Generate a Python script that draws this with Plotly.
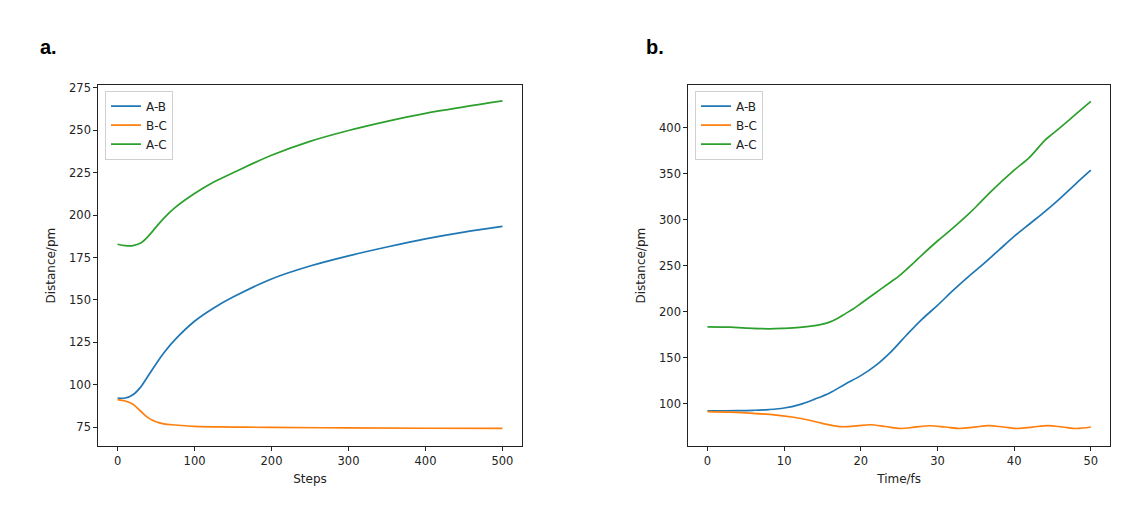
import plotly.graph_objects as go
from plotly.subplots import make_subplots

# panel a: distances vs optimisation steps
steps_ab = [0, 10, 20, 30, 40, 50, 60, 75, 100, 125, 150, 200, 250, 300, 350, 400, 450, 500]
dist_ab_a = [92.3, 92.3, 94.2, 98.7, 105.5, 112.3, 118.8, 126.8, 137.5, 145.3, 151.7, 162.4, 170, 176, 181.2, 186, 190, 193.3]

steps_bc = [0, 10, 20, 30, 40, 50, 60, 75, 100, 150, 200, 300, 400, 500]
dist_bc_a = [91.3, 90.5, 88.6, 84.5, 80.6, 78.3, 77.1, 76.4, 75.6, 75.2, 75.0, 74.7, 74.5, 74.4]

steps_ac = [0, 10, 20, 30, 40, 50, 60, 75, 100, 125, 150, 200, 250, 300, 350, 400, 450, 500]
dist_ac_a = [182.8, 182, 182, 183.5, 187.6, 192.9, 198.1, 204.5, 212.7, 219.5, 224.9, 235.2, 243.4, 249.8, 255.2, 259.9, 263.7, 267.2]

# panel b: distances vs time
time_ab = [0, 2, 4, 6, 8, 10, 12, 14, 16, 18, 20, 22, 24, 26, 28, 30, 32, 34, 36, 38, 40, 42, 44, 46, 48, 50]
dist_ab_b = [92.3, 92.3, 92.4, 92.8, 93.6, 95.3, 99, 105, 112, 121.5, 130.5, 142, 157, 175, 192, 207, 223, 238, 252, 267, 282, 295.5, 309, 323.5, 339, 354]

time_bc = [0, 3, 6, 9, 11, 13, 15, 16.5, 17.7, 19.5, 21.2, 23.2, 25.2, 27, 29, 31, 32.9, 34.8, 36.7,
           38.6, 40.5, 42.4, 44.4, 46.3, 48.1, 50]
dist_bc_b = [91.4, 90.8, 89.5, 87.5, 85.5, 82.5, 78.5, 76, 74.9, 75.8, 77.1, 75.2, 73.0, 74.4, 76.0, 74.6, 73.0, 74.5, 76.1,
             74.6, 73.0, 74.5, 76.1, 74.6, 73.0, 74.6]

time_ac = [0, 3, 5, 8, 10, 12, 14, 15, 16, 17, 18, 19, 20, 22, 24, 25, 27, 28, 30, 32, 34, 35, 37, 40, 42, 44, 45, 47, 48, 50]
dist_ac_b = [183.6, 183.2, 182.3, 181.5, 182, 183, 185, 186.5, 189, 193, 198, 203, 209, 221, 233, 239, 254, 262, 277, 291, 306,
             314, 331, 354, 368, 386.6, 393.5, 407.5, 414.8, 429]

names = ["A-B", "B-C", "A-C"]
colors = ["#1f77b4", "#ff7f0e", "#2ca02c"]

# page shows the figure 8px in from the window edge
W, H = 1135, 506
OFF = 8


def px_x(x):
    return (x - OFF) / W


def px_y(y):
    return 1 - (y - OFF) / H


fig = make_subplots(rows=1, cols=2)

series_a = [(steps_ab, dist_ab_a), (steps_bc, dist_bc_a), (steps_ac, dist_ac_a)]
series_b = [(time_ab, dist_ab_b), (time_bc, dist_bc_b), (time_ac, dist_ac_b)]

for i, (xs, ys) in enumerate(series_a):
    fig.add_trace(go.Scatter(x=xs, y=ys, name=names[i], mode="lines", line=dict(color=colors[i], width=1.7, shape="spline"),
                             legend="legend"), row=1, col=1)
for i, (xs, ys) in enumerate(series_b):
    fig.add_trace(go.Scatter(x=xs, y=ys, name=names[i], mode="lines", line=dict(color=colors[i], width=1.7, shape="spline"),
                             legend="legend2"), row=1, col=2)

axis_style = dict(showline=True, mirror=True, linecolor="#222", linewidth=1, ticks="outside", ticklen=4,
                  tickcolor="#222", showgrid=False, zeroline=False, tickfont=dict(size=11.5, color="#222"))

y0 = px_y(445.7)
y1 = px_y(81.7)

fig.update_xaxes(axis_style)
fig.update_yaxes(axis_style)
fig.update_xaxes(domain=[px_x(98.3), px_x(521.7)], range=[-25, 525], tickvals=[0, 100, 200, 300, 400, 500],
                 title=dict(text="Steps", font=dict(size=12, color="#222"), standoff=7), row=1, col=1)
fig.update_yaxes(domain=[y0, y1], range=[63.9, 276.5], tickvals=[75, 100, 125, 150, 175, 200, 225, 250, 275],
                 title=dict(text="Distance/pm", font=dict(size=12, color="#222"), standoff=10), row=1, col=1)
fig.update_xaxes(domain=[px_x(688.3), px_x(1110)], range=[-2.5, 52.5], tickvals=[0, 10, 20, 30, 40, 50],
                 title=dict(text="Time/fs", font=dict(size=12, color="#222"), standoff=7), row=1, col=2)
fig.update_yaxes(domain=[y0, y1], range=[53.7, 446.6], tickvals=[100, 150, 200, 250, 300, 350, 400],
                 title=dict(text="Distance/pm", font=dict(size=12, color="#222"), standoff=10), row=1, col=2)

legend_style = dict(xanchor="left", yanchor="top", bgcolor="rgba(255,255,255,0.8)", bordercolor="#d0d0d0",
                    borderwidth=1, font=dict(size=12, color="#222"), itemwidth=30, tracegroupgap=0)

fig.update_layout(
    width=W, height=H,
    margin=dict(l=0, r=0, t=0, b=0),
    paper_bgcolor="white", plot_bgcolor="white",
    font=dict(family="DejaVu Sans", color="#222"),
    showlegend=True,
    legend=dict(x=px_x(105), y=px_y(87.3), **legend_style),
    legend2=dict(x=px_x(695), y=px_y(87.3), **legend_style),
    annotations=[
        dict(text="<b>a.</b>", x=px_x(38), y=px_y(56), xref="paper", yref="paper", xanchor="left", yanchor="bottom",
             showarrow=False, font=dict(family="Liberation Sans", size=20, color="black")),
        dict(text="<b>b.</b>", x=px_x(644), y=px_y(56), xref="paper", yref="paper", xanchor="left", yanchor="bottom",
             showarrow=False, font=dict(family="Liberation Sans", size=20, color="black")),
    ],
)

fig.write_html("out.html")
